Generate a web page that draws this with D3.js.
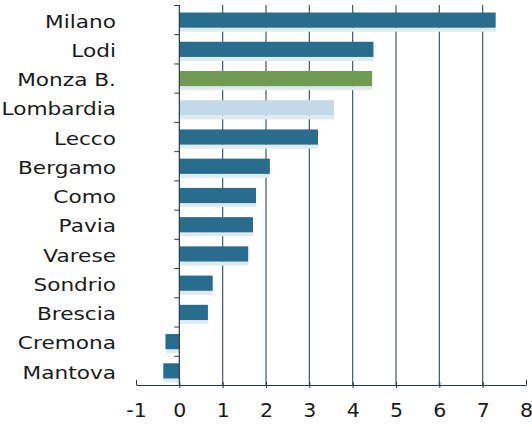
<!DOCTYPE html>
<html>
<head>
<meta charset="utf-8">
<script src="https://cdn.jsdelivr.net/npm/d3@7"></script>
<style>
  html, body { margin: 0; padding: 0; background: #ffffff; }
  svg { display: block; }
  text { font-family: "DejaVu Sans", sans-serif; fill: #1a1a1a; }
</style>
</head>
<body>
<svg id="chart" width="532" height="427"></svg>
<script>
// Provinces of Lombardy, top to bottom
const categories = ["Milano", "Lodi", "Monza B.", "Lombardia", "Lecco", "Bergamo", "Como",
  "Pavia", "Varese", "Sondrio", "Brescia", "Cremona", "Mantova"];
const values = [7.3, 4.48, 4.45, 3.57, 3.2, 2.09, 1.77, 1.7, 1.59, 0.77, 0.66, -0.32, -0.37];
// Highlight colour per row kind
const kinds = ["prov", "prov", "monza", "region", "prov", "prov", "prov",
  "prov", "prov", "prov", "prov", "prov", "prov"];
const tickValues = [-1, 0, 1, 2, 3, 4, 5, 6, 7, 8];
const gridValues = [1, 2, 3, 4, 5, 6, 7];

const colors = { prov: "#286d8d", monza: "#6f9b55", region: "#c2d9e9" };

const svg = d3.select("#chart");
const x = d3.scaleLinear().domain([-1, 8]).range([136, 526]);
const y = d3.scaleBand().domain(categories).range([5.5, 385.5]).paddingInner(0.48).paddingOuter(0.24);

// Gridlines
svg.append("g").selectAll("line").data(gridValues).join("line")
  .attr("x1", d => x(d)).attr("x2", d => x(d))
  .attr("y1", 5).attr("y2", 385)
  .attr("stroke", "#3f5a6b").attr("stroke-width", 1.2);

// Soft under-shadow of each bar
svg.append("g").selectAll("rect").data(values).join("rect")
  .attr("x", d => Math.min(x(0), x(d)))
  .attr("y", (d, i) => y(categories[i]) + y.bandwidth())
  .attr("width", d => Math.abs(x(d) - x(0)))
  .attr("height", 4)
  .attr("fill", "#dfebf3");

// Bars
svg.append("g").selectAll("rect").data(values).join("rect")
  .attr("x", d => Math.min(x(0), x(d)))
  .attr("y", (d, i) => y(categories[i]))
  .attr("width", d => Math.abs(x(d) - x(0)))
  .attr("height", y.bandwidth())
  .attr("fill", (d, i) => colors[kinds[i]]);

// Vertical category axis at zero
const yAxis = svg.append("g").attr("transform", `translate(${x(0)},0)`);
yAxis.append("line").attr("x1", 0).attr("x2", 0).attr("y1", 5).attr("y2", 385)
  .attr("stroke", "#2a3a44").attr("stroke-width", 1.2);
const bounds = d3.range(categories.length).map(i => 5.5 + i * y.step());
yAxis.selectAll("line.t").data(bounds).join("line").attr("class", "t")
  .attr("x1", -5).attr("x2", 0).attr("y1", d => d).attr("y2", d => d)
  .attr("stroke", "#2a3a44").attr("stroke-width", 1);

// Category labels (wide geometric look)
svg.append("g").selectAll("text").data(categories).join("text")
  .attr("transform", d => `translate(116,${y(d) + y.bandwidth() / 2 + 1}) scale(1.17,1)`)
  .attr("dy", "0.36em")
  .attr("text-anchor", "end")
  .attr("font-size", 18.5)
  .text(d => d);

// Bottom value axis
const xAxis = d3.axisBottom(x).tickValues(tickValues).tickSize(0).tickPadding(19)
  .tickFormat(d => String(d));
const gx = svg.append("g").attr("transform", "translate(0,385)").call(xAxis);
gx.select(".domain").attr("stroke", "#2a3a44").attr("stroke-width", 1.2);
gx.selectAll(".tick text").attr("font-size", 19).attr("font-family", "DejaVu Sans, sans-serif")
  .attr("fill", "#1a1a1a").attr("transform", "scale(1.08,1)");
gx.selectAll(".tick").append("line")
  .attr("y1", d => (d === -1 || d === 8) ? -5 : -3)
  .attr("y2", d => (d === -1 || d === 8) ? 0 : 3)
  .attr("stroke", "#2a3a44").attr("stroke-width", 1);
</script>
</body>
</html>
